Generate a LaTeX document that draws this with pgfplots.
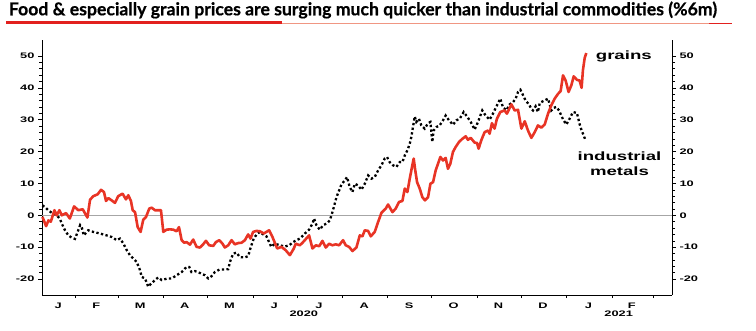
\documentclass[border=0pt]{standalone}
\usepackage{fontspec}
\usepackage{pgfplots}
\pgfplotsset{compat=1.18}
\newfontfamily\titlefont[BoldFeatures={FakeBold=0.6}]{Lato}
\newfontfamily\tickfont[FakeStretch=1.6]{Liberation Sans}
\newfontfamily\labfont[FakeStretch=1.55]{Liberation Sans}
\definecolor{grainred}{RGB}{232,52,37}
\definecolor{ulred}{RGB}{226,32,30}
\definecolor{ulthin}{RGB}{240,150,130}
\begin{document}
\begin{tikzpicture}[x=1bp,y=1bp]
\useasboundingbox (0,0) rectangle (756,330);
% title
\node[anchor=base west, inner sep=0] at (8.7,314.7) {\resizebox{708bp}{!}{\titlefont\bfseries\fontsize{15.5bp}{18bp}\selectfont Food \& especially grain prices are surging much quicker than industrial commodities (\%6m)}};
\draw[ulthin, line width=0.9bp] (282,306.5) -- (731.7,306.5);
\draw[ulred, line width=3bp] (6,307.5) -- (282,307.5);
\draw[ulred, line width=1.6bp] (709,306.5) -- (731.7,306.5);
% left axis + data
\begin{axis}[
  at={(42bp,35bp)}, anchor=south west,
  scale only axis, width=630bp, height=255bp,
  xmin=8, xmax=438, ymin=-25, ymax=55,
  axis x line*=bottom, axis y line*=left,
  axis line style={-, line width=0.8bp},
  tick align=outside,
  major tick length=4bp, minor tick length=3bp,
  tick style={black, line width=0.6bp},
  ytick={-20,-10,0,10,20,30,40,50},
  yticklabels={-20,-10,0,10,20,30,40,50},
  minor y tick num=4,
  xtick={19,45,75,105.5,136,166.5,197,228,258.5,289,319.5,350,381,410.5},
  xticklabels={J,F,M,A,M,J,J,A,S,O,N,D,J,F},
  major x tick style={draw=none},
  minor xtick={31,60,91,121,152,182,213,244,274,305,335,366,397,425},
  ticklabel style={font=\tickfont\bfseries\fontsize{8bp}{9bp}\selectfont},
  clip=false,
]
\addplot[gray!70, line width=0.7bp] coordinates {(8,0) (438,0)};
\addplot[black, line width=2.3bp, dash pattern=on 2.3bp off 2.4bp] coordinates {
(8.3,3.1) (10,2.6) (12.3,1.6) (14,1) (15.7,0.5) (17.5,0.2) (19.1,-0.5) (20.3,-1.2) (21.5,-2.6) (23.7,-4.7) (26,-6.3) (28.3,-7) (30.5,-7.4) (32.5,-5) (34,-3.1) (35.3,-4) (36.5,-6.3) (38,-5.5) (39.6,-4.7) (43,-5.2) (47.6,-5.7) (52.1,-6.3) (55.6,-6.8) (59,-7.8) (61.2,-7.3) (63.5,-8.8) (65.8,-10.9) (68,-12.5) (71.5,-14.1) (72.6,-14.6) (74.9,-17.2) (76,-19.3) (78.3,-19.8) (80.5,-22.4) (82.8,-21.3) (85.1,-20.3) (87.3,-19.5) (89.7,-20.3) (93,-19.9) (96.5,-19.8) (99.9,-18.8) (103.3,-17.8) (106.7,-16.2) (108.5,-16.2) (110,-17.8) (112.4,-17.5) (115.8,-18.1) (119.2,-18.8) (121.5,-19.8) (123.7,-19.1) (126,-17.8) (129.2,-17) (132,-17) (135.1,-16.9) (136.3,-14.6) (138.5,-12) (140.8,-11.7) (143,-13.1) (146.5,-13.2) (148.7,-12.8) (150.5,-10) (152.5,-7.3) (154.5,-6) (156.7,-5.2) (159,-6) (161.2,-6.6) (162.4,-7.8) (164.5,-9.9) (166.9,-8.9) (170.3,-9.4) (173.7,-9.8) (176.8,-9.4) (179.4,-8.4) (181.7,-7.8) (184,-7.3) (187.4,-5.7) (190.3,-4.5) (192.6,-2.6) (193.7,-1) (195.3,-3.1) (197.6,-4.5) (199.9,-3.1) (202.2,-2.6) (204.4,-1.6) (205.6,0) (207.2,2.6) (209,5.7) (210.8,7.8) (212.4,9.7) (214.7,11) (216.2,12) (218,8.9) (219.9,7.3) (221.5,9.9) (223.7,9.4) (226,8) (228.3,9.9) (230.6,12.5) (232.8,11.5) (235.1,12) (237.4,14.1) (239.7,15.7) (241.9,17.8) (243.5,18.3) (245.3,16.7) (247.6,15.7) (249.9,15.2) (252.2,16.7) (254,16.7) (255.6,18.8) (257.4,20.4) (259,22.5) (260.1,24.6) (261.2,27.7) (262.4,31) (263.5,29.3) (265.3,30.3) (266.9,28.2) (269.2,27.2) (271.5,28.9) (273.1,29.3) (274.4,23) (275.3,26.6) (277.2,27.7) (279.4,28.2) (281.7,29.8) (283.5,31.3) (285.8,29.8) (288.5,28.4) (290.8,29.8) (293.1,30.3) (295.8,32.4) (298.1,31) (300.6,29.3) (303.3,26.9) (305.6,29.3) (308.5,32.9) (310.8,31.3) (313.5,30) (315.8,31.9) (318,34) (320.8,36.6) (322.7,33.8) (325,33) (327.2,34.8) (329.5,35.5) (331.3,36.6) (332.9,38.7) (334.5,39.4) (335.9,38.1) (338.1,36) (340.4,34.8) (342,33.4) (343.1,32.9) (344.9,34.2) (346.5,32.4) (347.7,35.2) (349.9,35.8) (353.4,36.6) (354.5,34.8) (355.6,32.9) (357.2,33.7) (359,34) (360.9,32.9) (362.4,31.3) (364,29.8) (365.9,28.5) (368.1,30.3) (370.4,32.4) (373.1,32.1) (374.9,28.7) (376.3,26.6) (377.7,25.1) (378.8,23.7)
};
\addplot[grainred, line width=2.6bp, line join=round] coordinates {
(8.3,-0.5) (10.8,-3.4) (12.4,-1.6) (14,-2) (16.5,1.6) (18,0) (19.9,1.6) (21.5,0) (24.4,0.7) (27,-1) (29.9,2.8) (32.8,1.6) (35.8,1.9) (39,-0.7) (40.8,4.9) (43,6) (46,6.6) (48.3,8) (50.3,7.3) (51.7,4.5) (53.3,5.4) (55.5,4.7) (57.8,3.9) (60,6) (63,6.8) (65.3,5) (66.9,6.3) (68.7,4.5) (69.9,1.6) (71.5,1) (73.3,-3.7) (75.3,-5.2) (77.1,-1.4) (79,-0.5) (81.2,2.1) (82.8,2.4) (85.1,1.6) (87.4,1.6) (89.2,1.6) (90.8,-5.2) (93,-4.5) (95.3,-4.4) (97.6,-4.5) (99.9,-5) (101.5,-3.7) (103.3,-7.8) (105.1,-8.6) (106.7,-8.4) (109,-9.2) (111.2,-7.6) (113.5,-9.9) (115.8,-10.1) (118,-9.1) (119.9,-8) (122.1,-9.4) (124.9,-9.6) (126.7,-8.4) (129,-7.8) (131.2,-8.9) (132.8,-10.1) (135.1,-9.4) (137.4,-7.8) (139.6,-9.1) (141.9,-8.7) (144.2,-8.6) (146.5,-7.8) (148.7,-6) (150.3,-7.3) (152.1,-5.2) (154.4,-4.9) (156.7,-5) (159.4,-5.7) (161.2,-5.2) (163,-4.7) (165.3,-6.8) (168.5,-10.4) (171.5,-9.9) (174.4,-11) (177.2,-12.5) (179.9,-10.4) (181.2,-8.9) (184,-9.4) (186.2,-8.4) (190.3,-6.3) (192.6,-10.4) (194.9,-9.4) (197.2,-9.7) (199.4,-8) (201.7,-10.1) (204,-8.9) (206.2,-9.4) (208.5,-9.1) (210.8,-9.4) (213.5,-7.8) (215.3,-9.4) (217.6,-9.9) (219.9,-11.2) (222.6,-10.1) (224.9,-6.3) (226.7,-6.6) (228.3,-4.7) (230.6,-4.9) (232.4,-6.6) (235.1,-5.2) (237.4,-2.1) (239.7,0.8) (242.6,2.1) (244.2,3.4) (247.2,1) (249.4,2.1) (251.7,4.2) (254,4.5) (255.6,8.4) (257.4,7.3) (259,11.5) (260.3,14.6) (261.7,17.8) (262.6,14.6) (264,10.4) (265.8,8.4) (267.6,5.7) (269.4,4.7) (271.5,5.7) (273.1,9.9) (274.9,10.4) (276.7,14.1) (278.3,16.2) (279.9,18.3) (281.7,17.2) (283.5,18) (285.1,14.6) (286.7,16.2) (288.5,19.9) (290.3,21.4) (292.6,23) (294.9,24) (297.2,24.8) (298.7,23.7) (300.6,24.3) (303.3,22.8) (304.9,22.7) (306,20.9) (307.8,23.5) (310.1,26.1) (312.4,26.6) (313.5,25.6) (315.1,28.9) (316.9,27.2) (318.5,30.3) (320.8,32.4) (323.7,32.9) (325.3,31.9) (328.4,34.8) (330.6,32.9) (332.9,33.1) (335.2,27.2) (337.5,29.5) (339.7,26.6) (342,24.3) (344.3,26.1) (346.5,28.2) (348.8,27.5) (351.1,28.5) (353.4,31.9) (355.6,34.5) (357.9,36.6) (360.2,38.1) (362,39) (363.6,43.9) (365.4,42.3) (367.4,38.7) (369.3,40.8) (370.9,43.6) (373.1,42.5) (374.9,42.3) (376.3,40) (377.2,45.5) (378.4,49.4) (379.5,50.9)
};
\end{axis}
% right axis
\begin{axis}[
  at={(42bp,35bp)}, anchor=south west,
  scale only axis, width=630bp, height=255bp,
  xmin=8, xmax=438, ymin=-25, ymax=55,
  axis x line=none, axis y line*=right,
  axis line style={-, line width=0.8bp},
  tick align=outside,
  major tick length=4bp, minor tick length=3bp,
  tick style={black, line width=0.6bp},
  ytick={-20,-10,0,10,20,30,40,50},
  yticklabels={-20,-10,0,10,20,30,40,50},
  minor y tick num=4,
  ticklabel style={font=\tickfont\bfseries\fontsize{8bp}{9bp}\selectfont},
]
\end{axis}
% series labels and years
\node[anchor=base, inner sep=0] at (623.8,271) {\labfont\bfseries\fontsize{12bp}{14bp}\selectfont grains};
\node[anchor=base, inner sep=0] at (619.5,169.3) {\labfont\bfseries\fontsize{12bp}{14bp}\selectfont industrial};
\node[anchor=base, inner sep=0] at (619.5,155) {\labfont\bfseries\fontsize{12bp}{14bp}\selectfont metals};
\node[anchor=center, inner sep=0] at (303.8,16) {\tickfont\bfseries\fontsize{8bp}{9bp}\selectfont 2020};
\node[anchor=center, inner sep=0] at (618.7,16) {\tickfont\bfseries\fontsize{8bp}{9bp}\selectfont 2021};
\end{tikzpicture}
\end{document}
